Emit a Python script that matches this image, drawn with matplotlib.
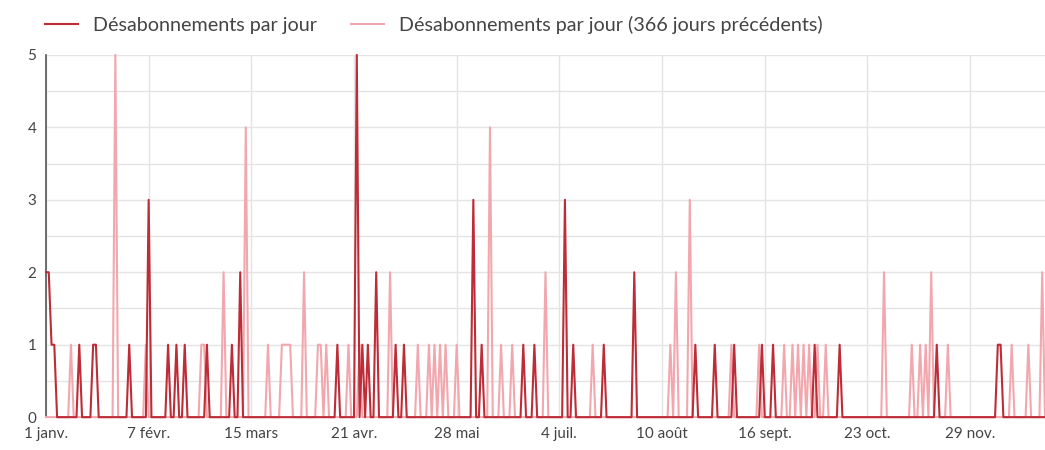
import numpy as np
import pandas as pd
import matplotlib
matplotlib.use("Agg")
import matplotlib.pyplot as plt

plt.rcParams["font.family"] = ["Lato", "DejaVu Sans"]

# jours (depuis le 1er janvier) avec au moins un désabonnement
cur_days = [0, 1, 2, 3, 12, 17, 18, 30, 37, 44, 47, 50, 58, 67, 70, 105,
            112, 114, 116, 119, 126, 129, 154, 157, 172, 176, 187, 190,
            201, 212, 234, 241, 248, 258, 262, 277, 286, 321, 343, 344]
cur_vals = [2, 2, 1, 1, 1, 1, 1, 1, 3, 1, 1, 1, 1, 1, 2, 1,
            5, 1, 1, 2, 1, 1, 3, 1, 1, 1, 3, 1,
            1, 2, 1, 1, 1, 1, 1, 1, 1, 1, 1, 1]

prev_days = [9, 25, 36, 56, 57, 64, 72, 80, 85, 86, 87, 88, 93, 98, 99,
             101, 109, 113, 124, 134, 138, 140, 142, 144, 148, 160, 164,
             168, 180, 197, 225, 227, 232, 247, 257, 266, 269, 271, 273,
             275, 278, 281, 302, 312, 315, 317, 319, 325, 348, 354, 359]
prev_vals = [1, 5, 1, 1, 1, 2, 4, 1, 1, 1, 1, 1, 2, 1, 1,
             1, 1, 1, 2, 1, 1, 1, 1, 1, 1, 4, 1,
             1, 2, 1, 1, 2, 3, 1, 1, 1, 1, 1, 1,
             1, 1, 1, 2, 1, 1, 1, 2, 1, 1, 1, 2]

tick_dates = ["2024-01-01", "2024-02-07", "2024-03-15", "2024-04-21", "2024-05-28",
              "2024-07-04", "2024-08-10", "2024-09-16", "2024-10-23", "2024-11-29"]
tick_labels = ["1 janv.", "7 févr.", "15 mars", "21 avr.", "28 mai",
               "4 juil.", "10 août", "16 sept.", "23 oct.", "29 nov."]

dates = pd.date_range("2024-01-01", periods=361, freq="D")
cur = pd.Series(0, index=dates)
cur.iloc[cur_days] = cur_vals
prev = pd.Series(0, index=dates)
prev.iloc[prev_days] = prev_vals

DARK = "#bd2c37"
PINK = "#f2a7ae"

fig = plt.figure(figsize=(10.45, 4.5), dpi=100)
ax = fig.add_axes([0.044, 0.073, 0.956, 0.805])

ax.plot(prev.index, prev.values, color=PINK, lw=1.5, clip_on=False, zorder=3,
        label="Désabonnements par jour (366 jours précédents)")
ax.plot(cur.index, cur.values, color=DARK, lw=1.5, clip_on=False, zorder=4,
        label="Désabonnements par jour")

ax.set_ylim(0, 5)
ax.set_xlim(dates[0], dates[-1])
ax.set_yticks([0, 1, 2, 3, 4, 5])
ax.set_yticks(np.arange(0.5, 5, 1), minor=True)
ax.set_xticks(pd.to_datetime(tick_dates))
ax.set_xticklabels(tick_labels)

ax.grid(True, which="both", color="#e4e4e4", lw=1)
ax.set_axisbelow(True)
for s in ["top", "right", "bottom"]:
    ax.spines[s].set_visible(False)
ax.spines["left"].set_color("#555555")
ax.spines["left"].set_linewidth(1.2)
ax.tick_params(which="both", length=0)
ax.tick_params(axis="y", labelsize=11, colors="#444444", pad=7)
ax.tick_params(axis="x", labelsize=11, colors="#444444", pad=7)

handles, labels = ax.get_legend_handles_labels()
fig.legend(handles[::-1], labels[::-1], loc="upper left", bbox_to_anchor=(0.026, 1.005),
           ncol=2, frameon=False, fontsize=14.2, handlelength=1.7, handletextpad=0.75,
           columnspacing=1.7, labelcolor="#444444")

plt.savefig("out.png", dpi=100)
